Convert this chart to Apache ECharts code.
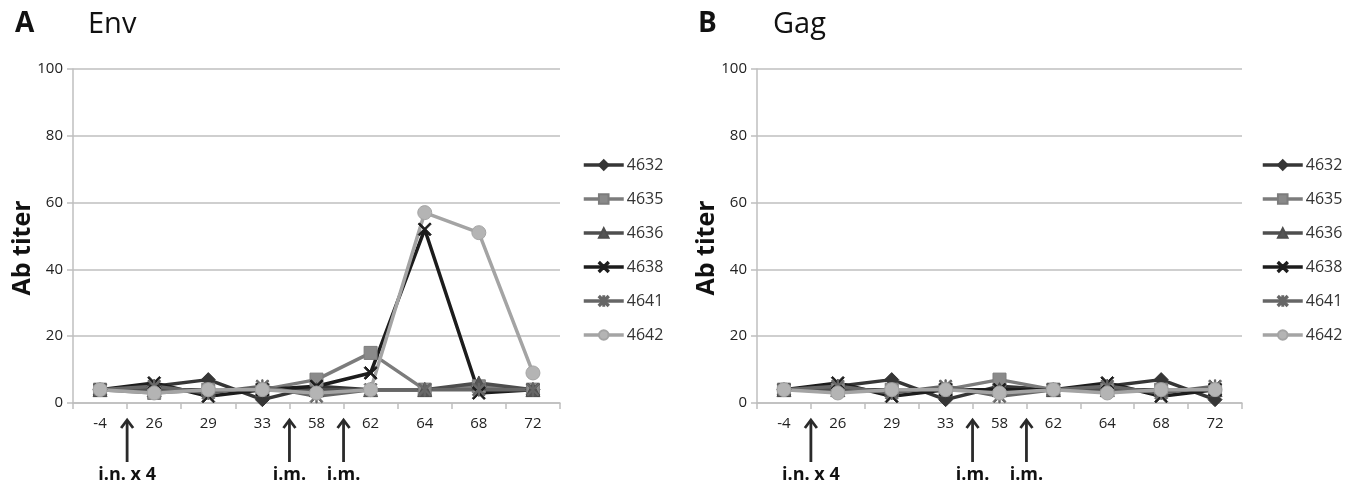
<!DOCTYPE html>
<html><head><meta charset="utf-8">
<script src="https://cdn.jsdelivr.net/npm/echarts@6/dist/echarts.min.js"></script>
<style>html,body{margin:0;padding:0;background:#fff}#c{width:1351px;height:487px}</style>
</head><body><div id="c"></div>
<script>
const categories = ['-4','26','29','33','58','62','64','68','72'];
const seriesNames = ['4632','4635','4636','4638','4641','4642'];
const yTicks = [0,20,40,60,80,100];
// Env (panel A)
const env4632 = [4,5,7,1,5,4,4,5,4];
const env4635 = [4,3,4,4,7,15,4,5,4];
const env4636 = [4,4,4,4,4,4,4,6,4];
const env4638 = [4,6,2,4,5,9,52,3,4];
const env4641 = [4,5,3,5,2,4,4,4,4];
const env4642 = [4,3,4,4,3,4,57,51,9];
// Gag (panel B)
const gag4632 = [4,5,7,1,5,4,5,7,1];
const gag4635 = [4,4,4,4,7,4,4,4,4];
const gag4636 = [4,4,4,4,4,4,4,4,4];
const gag4638 = [4,6,2,4,4,4,6,2,4];
const gag4641 = [4,5,3,5,2,4,5,3,5];
const gag4642 = [4,3,4,4,3,4,3,4,4];
// annotations: arrow placed after category index
const arrowAfter = [0,3,4];
const arrowLabels = ['i.n. x 4','i.m.','i.m.'];

const envData = [env4632,env4635,env4636,env4638,env4641,env4642];
const gagData = [gag4632,gag4635,gag4636,gag4638,gag4641,gag4642];

const FONT = '"Open Sans", "Noto Sans", sans-serif';
const lineColors = ['#363636','#7c7c7c','#4e4e4e','#1c1c1c','#666666','#a4a4a4'];
const fillColors = ['#363636','#8a8a8a','#555555','#1c1c1c','#6a6a6a','#b4b4b4'];
const xPath = 'path://M0,1L1,0L5,4L9,0L10,1L6,5L10,9L9,10L5,6L1,10L0,9L4,5Z';
const starPath = 'path://M0,1L1,0L5,4L9,0L10,1L6,5L10,9L9,10L5,6L1,10L0,9L4,5Z M4.5,0L5.5,0L5.5,10L4.5,10Z';
const symbols = ['diamond','rect','triangle',xPath,starPath,'circle'];
const symbolSizes = [14,13,14,13,13,14];

const grids = [
  {left:73, right:791, top:69, bottom:84},
  {left:757, right:109, top:69, bottom:84}
];

function mkX(i){
  return {type:'category', gridIndex:i, data:categories, boundaryGap:true,
    axisLine:{lineStyle:{color:'#bfbfbf', width:1.5}},
    axisTick:{show:true, length:6, lineStyle:{color:'#bfbfbf', width:1.5}},
    axisLabel:{color:'#222', fontSize:15, fontFamily:FONT, margin:13}};
}
function mkY(i){
  return {type:'value', gridIndex:i, min:0, max:100, interval:20,
    axisLine:{show:true, lineStyle:{color:'#bfbfbf', width:1.5}},
    axisTick:{show:true, length:6, lineStyle:{color:'#bfbfbf', width:1.5}},
    splitLine:{lineStyle:{color:'#bfbfbf', width:1.5}},
    axisLabel:{color:'#222', fontSize:15, fontFamily:FONT, margin:10,
      formatter:v => yTicks.includes(v) ? String(v) : ''}};
}

const series = [];
[envData, gagData].forEach((ds, gi) => {
  ds.forEach((d, k) => {
    series.push({
      type:'line', name:seriesNames[k], xAxisIndex:gi, yAxisIndex:gi, data:d,
      symbol:symbols[k], symbolSize:symbolSizes[k], showAllSymbol:true,
      lineStyle:{color:lineColors[k], width:3.5},
      itemStyle:{color:fillColors[k], borderColor:lineColors[k], borderWidth:1},
      emphasis:{disabled:true}, animation:false
    });
  });
});

function mkLegend(left){
  return {orient:'vertical', left:left, top:152, itemWidth:40, itemHeight:12, itemGap:18,
    data:seriesNames, selectedMode:false,
    lineStyle:{width:3.5},
    textStyle:{fontSize:16, color:'#333', fontFamily:FONT, padding:[0,0,0,-2]}};
}

const chart = echarts.init(document.getElementById('c'));
chart.setOption({
  animation:false,
  textStyle:{fontFamily:FONT},
  title:[
    {text:'A', left:10, top:5, textStyle:{fontSize:28, fontWeight:'bold', color:'#111', fontFamily:FONT}},
    {text:'Env', left:83, top:5, textStyle:{fontSize:29, fontWeight:'normal', color:'#111', fontFamily:FONT}},
    {text:'B', left:693, top:5, textStyle:{fontSize:28, fontWeight:'bold', color:'#111', fontFamily:FONT}},
    {text:'Gag', left:768, top:5, textStyle:{fontSize:29, fontWeight:'normal', color:'#111', fontFamily:FONT}}
  ],
  grid:grids,
  xAxis:[mkX(0), mkX(1)],
  yAxis:[mkY(0), mkY(1)],
  legend:[mkLegend(577), mkLegend(1256)],
  series:series
});

// annotation arrows and axis titles computed from axis scale
const graphics = [];
[0,1].forEach(gi => {
  const base = chart.convertToPixel({yAxisIndex:gi}, 0);
  const yMid = (chart.convertToPixel({yAxisIndex:gi}, 0) + chart.convertToPixel({yAxisIndex:gi}, 100)) / 2;
  const axisX = chart.convertToPixel({xAxisIndex:gi}, categories[0]) - 27;
  graphics.push({type:'text', x:axisX - 50, y:yMid + 12, rotation:Math.PI/2,
    style:{text:'Ab titer', fill:'#111', font:'bold 25px ' + FONT, textAlign:'center', textVerticalAlign:'middle'}, silent:true});
  arrowAfter.forEach((a, j) => {
    const x0 = chart.convertToPixel({xAxisIndex:gi}, categories[a]);
    const x1 = chart.convertToPixel({xAxisIndex:gi}, categories[a+1]);
    const x = (x0 + x1) / 2;
    const top = base + 16, bot = base + 59;
    graphics.push({type:'line', shape:{x1:x, y1:top+2, x2:x, y2:bot},
      style:{stroke:'#2a2a2a', lineWidth:2.8}, silent:true});
    graphics.push({type:'polyline', shape:{points:[[x-6,top+9],[x,top+1],[x+6,top+9]]},
      style:{stroke:'#2a2a2a', lineWidth:2.8, fill:null}, silent:true});
    graphics.push({type:'text', x:x, y:bot+13,
      style:{text:arrowLabels[j], fill:'#111', font:'bold 18px ' + FONT, textAlign:'center', textVerticalAlign:'middle'}, silent:true});
  });
});
chart.setOption({graphic:graphics});
</script></body></html>
